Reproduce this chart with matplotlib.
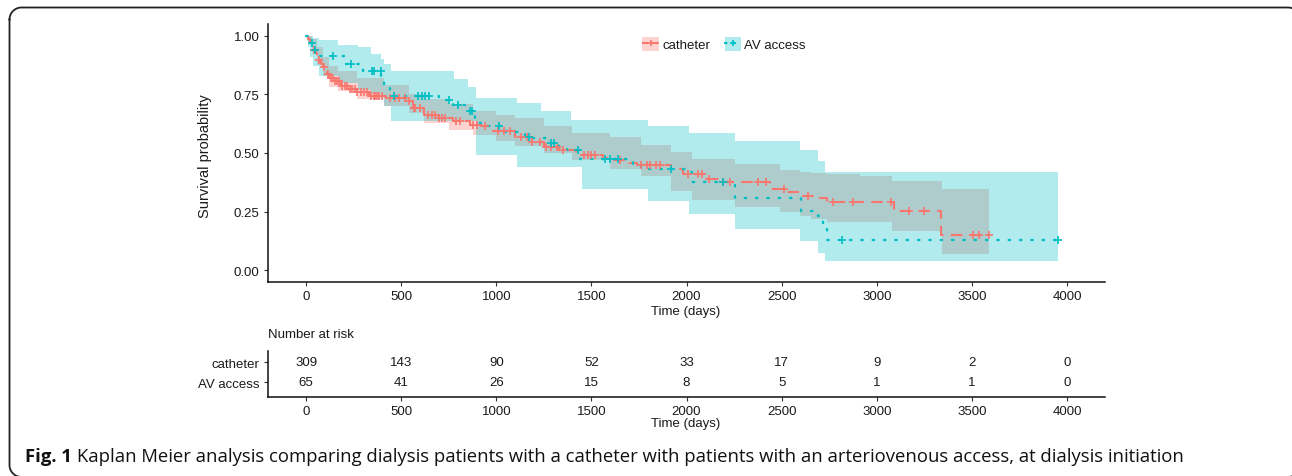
import numpy as np
import matplotlib
matplotlib.use("Agg")
import matplotlib.pyplot as plt
from matplotlib.patches import Patch
from matplotlib.lines import Line2D

# ---------------- data ----------------
cath_t = [0, 10, 20, 30, 40, 50, 60, 70, 80, 90, 100, 110, 121, 150, 185, 220, 270, 330,
          420, 530, 560, 620, 700, 770, 860, 920, 980, 1100, 1190, 1250, 1330, 1420, 1560,
          1600, 1700, 1740, 1920, 1980, 2090, 2190, 2440, 2520, 2590, 2700, 2740, 3090,
          3340, 3590]
cath_s = [1.0, 0.985, 0.97, 0.955, 0.94, 0.925, 0.91, 0.895, 0.88, 0.865, 0.85, 0.835,
          0.82, 0.805, 0.786, 0.772, 0.758, 0.745, 0.736, 0.72, 0.693, 0.664, 0.65, 0.635,
          0.62, 0.613, 0.592, 0.57, 0.548, 0.527, 0.512, 0.49, 0.48, 0.469, 0.458, 0.447,
          0.43, 0.411, 0.39, 0.376, 0.345, 0.333, 0.317, 0.31, 0.289, 0.253, 0.152, 0.152]
cath_censor = [40, 70, 95, 115, 130, 140, 150, 165, 175, 190, 205, 215, 230, 240, 255, 270,
               290, 305, 320, 340, 355, 365, 375, 385, 400, 440, 470, 490, 520, 540, 565,
               575, 600, 640, 660, 680, 700, 715, 730, 790, 810, 880, 900, 940, 1010, 1040,
               1070, 1130, 1160, 1190, 1230, 1260, 1290, 1320, 1350, 1460, 1480, 1500, 1520,
               1650, 1760, 1790, 1810, 1840, 1860, 2007, 2060, 2080, 2120, 2190, 2230, 2375,
               2420, 2510, 2640, 2770, 2875, 3075, 3170, 3250, 3505, 3540, 3590]
cath_band_t = [0, 10, 30, 60, 90, 121, 170, 270, 410, 540, 620, 750, 880, 1000, 1100, 1250,
               1400, 1600, 1760, 1916, 2031, 2257, 2494, 2598, 2657, 2740, 2913, 3081, 3345,
               3590]
cath_upper = [1.0, 1.0, 0.985, 0.95, 0.91, 0.87, 0.85, 0.82, 0.79, 0.75, 0.73, 0.707, 0.678,
              0.66, 0.65, 0.613, 0.584, 0.57, 0.534, 0.505, 0.476, 0.455, 0.426, 0.42, 0.415,
              0.41, 0.404, 0.382, 0.346, 0.346]
cath_lower = [1.0, 0.97, 0.93, 0.875, 0.83, 0.78, 0.765, 0.73, 0.70, 0.67, 0.63, 0.60, 0.575,
              0.55, 0.53, 0.50, 0.47, 0.43, 0.40, 0.34, 0.30, 0.27, 0.25, 0.23, 0.22, 0.205,
              0.205, 0.166, 0.069, 0.069]

av_t = [0, 10, 20, 35, 70, 200, 300, 395, 410, 440, 455, 700, 770, 840, 890, 915, 950, 1050,
        1150, 1190, 1280, 1330, 1370, 1440, 1720, 1760, 1990, 2030, 2257, 2600, 2693, 2715,
        2740, 3953]
av_s = [1.0, 0.985, 0.969, 0.938, 0.912, 0.88, 0.848, 0.83, 0.788, 0.766, 0.743, 0.725, 0.704,
        0.678, 0.65, 0.63, 0.613, 0.59, 0.57, 0.563, 0.541, 0.525, 0.512, 0.475, 0.455, 0.433,
        0.42, 0.376, 0.31, 0.253, 0.23, 0.2, 0.127, 0.127]
av_censor = [30, 45, 140, 236, 345, 358, 394, 460, 590, 610, 625, 645, 750, 800, 860, 875,
             1014, 1170, 1286, 1304, 1430, 1570, 1600, 1640, 1916, 2190, 2817, 3953]
av_band_t = [0, 10, 20, 35, 70, 170, 271, 340, 395, 410, 446, 780, 850, 893, 1111, 1234, 1392,
             1452, 1800, 2011, 2257, 2598, 2693, 2730, 3953]
av_upper = [1.0, 1.0, 1.0, 0.99, 0.981, 0.96, 0.95, 0.924, 0.90, 0.88, 0.851, 0.816, 0.78,
            0.736, 0.714, 0.678, 0.642, 0.642, 0.613, 0.584, 0.551, 0.512, 0.465, 0.418, 0.418]
av_lower = [1.0, 0.95, 0.91, 0.87, 0.83, 0.80, 0.77, 0.75, 0.74, 0.70, 0.636, 0.636, 0.636,
            0.49, 0.44, 0.44, 0.44, 0.346, 0.296, 0.238, 0.176, 0.123, 0.072, 0.04, 0.04]

risk_times = [0, 500, 1000, 1500, 2000, 2500, 3000, 3500, 4000]
cath_risk = [309, 143, 90, 52, 33, 17, 9, 2, 0]
av_risk = [65, 41, 26, 15, 8, 5, 1, 1, 0]
y_ticks = [0.0, 0.25, 0.5, 0.75, 1.0]
y_ticklabels = ["0.00", "0.25", "0.50", "0.75", "1.00"]
groups = ["catheter", "AV access"]

RED = "#F8766D"
TEAL = "#00BFC4"
TXT = "#1a1a1a"
plt.rcParams["font.family"] = ["Liberation Sans", "DejaVu Sans"]

W, H = 1292, 477
fig = plt.figure(figsize=(W / 100, H / 100), dpi=100)
fig.patch.set_facecolor("white")


def step_value(times, vals, q):
    times = np.asarray(times)
    vals = np.asarray(vals)
    idx = np.searchsorted(times, q, side="right") - 1
    return vals[np.clip(idx, 0, len(vals) - 1)]


# ---------------- main KM panel ----------------
ax = fig.add_axes([268 / W, 1 - 283 / H, 837 / W, 258 / H])
ax.set_xlim(-200, 4200)
ax.set_ylim(-0.05, 1.05)

ax.fill_between(cath_band_t, cath_lower, cath_upper, step="post", color=RED, alpha=0.32,
                lw=0)
ax.fill_between(av_band_t, av_lower, av_upper, step="post", color=TEAL, alpha=0.3, lw=0)

cath_ls = (0, (5.5, 3.5))
av_ls = (0, (0.6, 4.2))
ax.step(cath_t, cath_s, where="post", color=RED, lw=1.5, ls=cath_ls)
ax.step(av_t, av_s, where="post", color=TEAL, lw=1.7, ls=av_ls, dash_capstyle="round")
ax.plot(cath_censor, step_value(cath_t, cath_s, cath_censor), ls="none", marker="+",
        ms=5.5, mew=1.2, color=RED)
ax.plot(av_censor, step_value(av_t, av_s, av_censor), ls="none", marker="+",
        ms=5.5, mew=1.2, color=TEAL)

for s in ["top", "right"]:
    ax.spines[s].set_visible(False)
for s in ["left", "bottom"]:
    ax.spines[s].set_linewidth(1.1)
    ax.spines[s].set_color("#111111")
ax.set_yticks(y_ticks)
ax.set_yticklabels(y_ticklabels)
ax.set_xticks(risk_times)
ax.tick_params(length=3, width=0.8, color="#333333", labelsize=9.5, labelcolor=TXT, pad=3)

fig.text(205 / W, 1 - 156 / H, "Survival probability", rotation=90, ha="center",
         va="center", fontsize=10.5, color=TXT)
fig.text(686 / W, 1 - 312 / H, "Time (days)", ha="center", va="center", fontsize=9.5,
         color=TXT)

handles = [
    (Patch(facecolor=RED, alpha=0.32, edgecolor="none"),
     Line2D([], [], color=RED, lw=1.5, ls=(0, (3, 2)), marker="+", ms=5, mew=1.2)),
    (Patch(facecolor=TEAL, alpha=0.3, edgecolor="none"),
     Line2D([], [], color=TEAL, lw=1.7, ls=(0, (0.6, 3)), marker="+", ms=5, mew=1.2,
            dash_capstyle="round")),
]
leg = ax.legend(handles, groups, ncol=2, loc="center", bbox_to_anchor=(0.545, 0.922),
                frameon=False, fontsize=9.5, handlelength=1.25, handleheight=1.25,
                handletextpad=0.25, columnspacing=1.1, numpoints=1)
for t in leg.get_texts():
    t.set_color(TXT)

# ---------------- risk table ----------------
rax = fig.add_axes([268 / W, 1 - 398 / H, 837 / W, 46 / H])
rax.set_xlim(-200, 4200)
rax.set_ylim(0, 1)
row_y = [0.76, 0.326]
for tt, c, a in zip(risk_times, cath_risk, av_risk):
    rax.text(tt, row_y[0], str(c), ha="center", va="center", fontsize=9.5, color=TXT)
    rax.text(tt, row_y[1], str(a), ha="center", va="center", fontsize=9.5, color=TXT)
rax.set_yticks(row_y)
rax.set_yticklabels(groups)
rax.set_xticks(risk_times)
for s in ["top", "right"]:
    rax.spines[s].set_visible(False)
for s in ["left", "bottom"]:
    rax.spines[s].set_linewidth(1.1)
    rax.spines[s].set_color("#111111")
rax.tick_params(length=3, width=0.8, color="#333333", labelsize=9.5, labelcolor=TXT, pad=3)
fig.text(268 / W, 1 - 335 / H, "Number at risk", ha="left", va="center", fontsize=9.5,
         color=TXT)
fig.text(686 / W, 1 - 424 / H, "Time (days)", ha="center", va="center", fontsize=9.5,
         color=TXT)

# ---------------- caption and frame ----------------
cap_font = ["Open Sans", "DejaVu Sans"]
t1 = fig.text(25 / W, 1 - 457 / H, "Fig. 1", ha="left", va="center", fontsize=13.3,
              fontweight="bold", family=cap_font, color="#111111")
fig.canvas.draw()
bb = t1.get_window_extent()
fig.text((bb.x1 + 5) / W, 1 - 457 / H,
         "Kaplan Meier analysis comparing dialysis patients with a catheter with patients "
         "with an arteriovenous access, at dialysis initiation",
         ha="left", va="center", fontsize=13.3, family=cap_font, color="#111111")

# rounded frame, built in pixel units (y measured from the top of the image)
fx0, fx1, fy0, fy1, rad = 9.5, 1300.0, 8.5, 478.0, 12.0
def arc(cx, cy, a0, a1):
    th = np.linspace(np.radians(a0), np.radians(a1), 20)
    return cx + rad * np.cos(th), cy - rad * np.sin(th)
segs = [arc(fx0 + rad, fy0 + rad, 180, 90), arc(fx1 - rad, fy0 + rad, 90, 0),
        arc(fx1 - rad, fy1 - rad, 0, -90), arc(fx0 + rad, fy1 - rad, -90, -180)]
px = np.concatenate([s[0] for s in segs] + [segs[0][0][:1]])
py = np.concatenate([s[1] for s in segs] + [segs[0][1][:1]])
fig.add_artist(Line2D(px / W, 1 - py / H, transform=fig.transFigure, color="#222222",
                      lw=1.3))

fig.savefig("out.png", dpi=100)
